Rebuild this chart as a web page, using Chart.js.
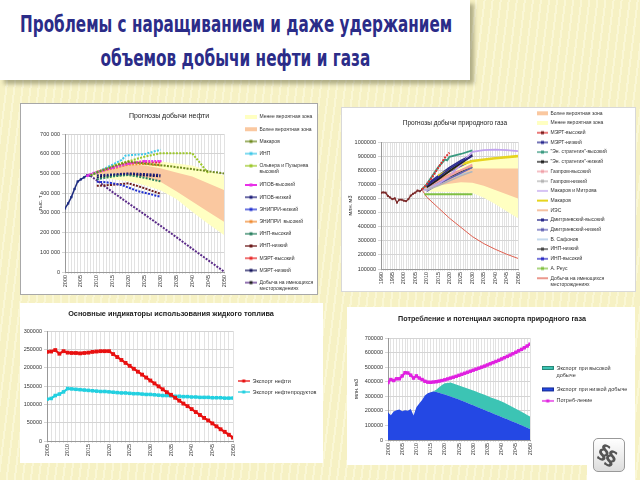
<!DOCTYPE html>
<html lang="ru">
<head>
<meta charset="utf-8">
<title>Проблемы с наращиванием и даже удержанием объемов добычи нефти и газа</title>
<script src="https://cdn.jsdelivr.net/npm/chart.js@4.4.1/dist/chart.umd.min.js"></script>
<style>
  html, body { margin: 0; padding: 0; }
  body {
    width: 640px; height: 480px; overflow: hidden; position: relative;
    background: #f6f1c4;
    background-image: repeating-linear-gradient(97deg, rgba(255,255,235,0.45) 0 2px, rgba(255,255,255,0) 2px 8px);
    font-family: "Liberation Sans", Arial, sans-serif;
  }
  #head { position: absolute; left: 0; top: 0; width: 470px; height: 80px; background: #fff;
          box-shadow: 4px 4px 4px rgba(90, 90, 60, 0.45); }
  .hl { position: absolute; white-space: nowrap; font-family: "DejaVu Sans Condensed", "DejaVu Sans", sans-serif;
        font-weight: bold; font-size: 23px; line-height: 23px; color: #2b2c88; transform-origin: center top; }
  canvas { position: absolute; background: #fff; }
  .ttl { position: absolute; white-space: nowrap; transform: translate(-50%, -50%); color: #222; }
  #logoBg { position: absolute; left: 587px; top: 440px; width: 48px; height: 40px; background: #fff; }
  #logo { position: absolute; left: 593px; top: 438px; width: 30px; height: 32px; border: 1px solid #999; border-radius: 5px;
          background: linear-gradient(#fff, #ddd); overflow: hidden; }
  #logo span { position: absolute; color: #555; font: bold 20px "DejaVu Sans", sans-serif; line-height: 20px;
               transform: rotate(25deg); }
</style>
</head>
<body>
<div id="head">
  <div class="hl" id="h1" style="top:13px">Проблемы с наращиванием и даже удержанием</div>
  <div class="hl" id="h2" style="top:47px">объемов добычи нефти и газа</div>
</div>

<canvas id="oil" width="296" height="190" style="left:21px;top:104px;outline:1px solid #a8a8a8"></canvas>
<canvas id="gas" width="293" height="183" style="left:342px;top:108px;outline:1px solid #d8d8d8"></canvas>
<canvas id="liquid" width="303" height="160" style="left:20px;top:303px"></canvas>
<canvas id="export" width="288" height="158" style="left:347px;top:307px"></canvas>

<div class="ttl" style="left:169px;top:115px;font-size:7px">Прогнозы добычи нефти</div>
<div class="ttl" style="left:455px;top:122px;font-size:6.5px">Прогнозы добычи природного газа</div>
<div class="ttl" style="left:171px;top:313px;font-size:7.3px;font-weight:bold">Основные индикаторы использования жидкого топлива</div>
<div class="ttl" style="left:492px;top:318px;font-size:7.2px;font-weight:bold">Потребление и потенциал экспорта природного газа</div>

<div id="logoBg"></div>
<div id="logo"><span style="left:5px;top:3px">§</span><span style="left:12px;top:9px">§</span></div>

<script>
// ---------- Oil production forecasts, thousand t ----------
const oilHistYears = [2000, 2001, 2002, 2003, 2004, 2005, 2006, 2007, 2008];
const oilHist = [323, 348, 380, 421, 459, 470, 480, 491, 488];
const oilZoneYears = [2008, 2010, 2015, 2020, 2025, 2030, 2035, 2040, 2045, 2050];
const oilLessHi = [495, 515, 545, 565, 570, 560, 550, 540, 515, 490];
const oilLessLo = [490, 480, 470, 460, 440, 415, 370, 305, 245, 188];
const oilMoreHi = [495, 510, 530, 545, 540, 526, 505, 484, 450, 416];
const oilMoreLo = [490, 495, 500, 495, 480, 458, 410, 357, 305, 255];
const oilFcYears = [2010, 2015, 2020, 2025, 2030];
const oilMakarov = [490, 505, 535, 560, 550, 542, 532, 522, 511, 500];
const oilInpYears = [2008, 2010, 2015, 2018, 2019, 2020, 2025, 2030];
const oilInp = [490, 505, 545, 570, 590, 592, 598, 620];
const oilOlYears = [2008, 2010, 2015, 2020, 2025, 2030, 2040, 2045];
const oilOl = [490, 505, 540, 562, 585, 602, 602, 503];
const oilIpovHiYears = [2007, 2008, 2009, 2010, 2015, 2020, 2025, 2030];
const oilIpovHi = [488, 495, 502, 506, 530, 550, 562, 562];
const oilIpovLo = [490, 495, 500, 497, 492];
const oilEnLoYears = [2010, 2013, 2015, 2018, 2020, 2023, 2025, 2028, 2030];
const oilEnLo = [458, 455, 450, 440, 428, 410, 402, 390, 382];
const oilEnHi = [505, 525, 545, 548, 540];
const oilInpHi = [470, 485, 492, 478, 460];
const oilInpLo = [437, 442, 450, 425, 397];
const oilMertHi = [508, 532, 552, 556, 556];
const oilMertLo = [480, 490, 495, 490, 485];
const oilExisting = [488, 465, 405, 348, 292, 235, 177, 118, 60, 2];

// ---------- Gas production forecasts, mln m3 (thousands on axis) ----------
const gasHistYears = [1990, 1991, 1992, 1993, 1994, 1995, 1996, 1997, 1998, 1999, 2000, 2001, 2002, 2003, 2004, 2005, 2006, 2007, 2008];
const gasHist = [641, 643, 641, 618, 607, 595, 601, 571, 591, 591, 584, 581, 595, 620, 633, 641, 656, 651, 664];
const gasZoneYears = [2008, 2010, 2015, 2020, 2025, 2030, 2035, 2040, 2045, 2050];
const gasMoreHi = [664, 690, 740, 780, 805, 812, 812, 812, 812, 812];
const gasMoreLo = [660, 665, 690, 705, 715, 712, 690, 660, 630, 600];
const gasLessHi = [664, 695, 760, 810, 845, 862, 870, 878, 885, 890];
const gasLessLo = [655, 650, 648, 645, 642, 638, 605, 560, 510, 460];
const gasFcYears = [2010, 2015, 2020, 2025, 2030];
const gasMertHiYears = [2008, 2010, 2012, 2014, 2016, 2018, 2020];
const gasMertHi = [664, 700, 740, 790, 840, 890, 925];
const gasMertLo = [690, 750, 810, 860, 900];
const gasEsHiYears = [2008, 2010, 2015, 2018, 2019, 2020, 2025, 2030];
const gasEsHi = [664, 700, 820, 875, 870, 895, 915, 940];
const gasEsLo = [680, 735, 795, 850, 905];
const gasGpHi = [680, 720, 760, 800, 840];
const gasGpLo = [660, 690, 725, 760, 790];
const gasMm = [664, 660, 700, 760, 840, 930, 942, 946, 942, 935];
const gasMakarovYears = [2015, 2020, 2025, 2030, 2040, 2050];
const gasMakarov = [760, 800, 840, 865, 885, 900];
const gasIes = [690, 730, 770, 800, 830];
const gasDmHi = [700, 760, 820, 870, 910];
const gasDmLo = [650, 700, 740, 780, 820];
const gasSafonov = [670, 710, 745, 770, 790];
const gasInpLo = [680, 715, 750, 790, 820];
const gasInpHi = [700, 745, 790, 830, 870];
const gasReusYears = [2009, 2015, 2020, 2025, 2030];
const gasReus = [630, 630, 630, 630, 630];
const gasExisting = [660, 610, 535, 460, 395, 330, 280, 240, 205, 175];

// ---------- Liquid fuel export, thousand t ----------
const liqYears = [2005, 2006, 2007, 2008, 2009, 2010, 2011, 2012, 2013, 2014, 2015, 2016, 2017, 2018, 2019,
  2020, 2021, 2022, 2023, 2024, 2025, 2026, 2027, 2028, 2029, 2030, 2031, 2032, 2033, 2034, 2035,
  2036, 2037, 2038, 2039, 2040, 2041, 2042, 2043, 2044, 2045, 2046, 2047, 2048, 2049, 2050];
const crudeExport = [243, 244, 248, 238, 245, 241, 240, 240, 239, 240, 241, 243, 244, 245, 245,
  245, 237, 229, 221, 213, 205, 197, 189, 181, 173, 165, 157, 149, 141, 133, 126,
  118, 110, 102, 95, 87, 79, 71, 63, 56, 48, 40, 32, 25, 17, 9];
const productExport = [114, 116, 124, 128, 134, 143, 142, 141, 140, 139, 138, 137, 136, 135, 135,
  134, 133, 132, 131, 131, 130, 129, 129, 128, 127, 127, 126, 125, 124, 124, 123,
  122, 122, 121, 121, 120, 120, 119, 119, 119, 118, 118, 118, 117, 117, 117];

// ---------- Gas consumption and export potential, mln m3 ----------
const expYears = [2000, 2001, 2002, 2003, 2004, 2005, 2006, 2007, 2008, 2009, 2010, 2011, 2012, 2013, 2014,
  2015, 2016, 2017, 2018, 2019, 2020, 2021, 2022, 2023, 2024, 2025, 2026, 2027, 2028, 2029, 2030,
  2031, 2032, 2033, 2034, 2035, 2036, 2037, 2038, 2039, 2040, 2041, 2042, 2043, 2044, 2045, 2046,
  2047, 2048, 2049, 2050];
const consumption = [395, 415, 408, 420, 420, 440, 462, 460, 445, 425, 440, 425, 415, 403, 397,
  396, 398, 400, 404, 408, 413, 419, 425, 431, 437, 444, 451, 458, 465, 472, 479,
  486, 493, 500, 507, 515, 523, 531, 539, 547, 556, 565, 574, 583, 592, 602, 612,
  622, 633, 645, 658];
const exportLow = [190, 170, 195, 205, 210, 198, 205, 200, 212, 168, 225, 250, 275, 305, 320,
  327, 333, 330, 324, 318, 312, 306, 299, 292, 285, 278, 270, 262, 254, 246, 238,
  230, 222, 214, 206, 198, 190, 182, 174, 166, 158, 150, 142, 134, 126, 118, 110,
  102, 93, 84, 75];
const exportHigh = [190, 170, 195, 205, 210, 198, 205, 200, 212, 168, 225, 250, 275, 305, 320,
  327, 335, 345, 362, 378, 390, 392, 394, 388, 381, 374, 367, 360, 354, 347, 340,
  333, 325, 317, 310, 302, 294, 287, 279, 272, 264, 255, 245, 235, 225, 215, 205,
  194, 183, 172, 161];

// ---------- helpers ----------
Chart.defaults.font.family = '"Liberation Sans", Arial, sans-serif';
Chart.defaults.font.size = 5.5;
Chart.defaults.color = '#333';
Chart.defaults.animation = false;
Chart.defaults.events = [];
Chart.defaults.elements.point.radius = 0;
Chart.defaults.elements.line.tension = 0;

function pts(xs, ys) {
  return xs.map((x, i) => ({ x: x, y: ys[i] }));
}

// small legend sample drawn on its own canvas
function swatch(w, color, kind, mark) {
  const c = document.createElement('canvas');
  c.width = w; c.height = 6;
  const g = c.getContext('2d');
  if (kind === 'box') {
    g.fillStyle = color;
    g.fillRect(0, 1, w, 4);
    if (mark) { g.strokeStyle = mark; g.lineWidth = 0.7; g.strokeRect(0.4, 1.4, w - 0.8, 3.2); }
  } else {
    g.strokeStyle = color;
    g.lineWidth = kind === 'thick' ? 2 : 1.3;
    g.beginPath(); g.moveTo(0, 3); g.lineTo(w, 3); g.stroke();
    if (mark) { g.fillStyle = mark; g.fillRect(w / 2 - 1.5, 1.5, 3, 3); }
  }
  return c;
}

function zone(label, xs, ys, color, order, sw) {
  return { label: label, data: pts(xs, ys), borderWidth: 0, borderColor: 'rgba(0,0,0,0)',
           backgroundColor: color, fill: '+1', order: order, swatch: swatch(sw, color, 'box') };
}
function edge(xs, ys, order) {
  return { label: '_edge', data: pts(xs, ys), borderWidth: 0, borderColor: 'rgba(0,0,0,0)', fill: false, order: order };
}
function line(label, xs, ys, color, o) {
  o = o || {};
  return { label: label, data: pts(xs, ys), borderColor: color, backgroundColor: color,
           borderWidth: o.w || 1.5, borderDash: o.dash || [], pointRadius: o.r || 0, pointStyle: 'rect',
           pointBackgroundColor: o.pc || color, pointBorderWidth: 0, fill: false, order: 0,
           swatch: swatch(o.sw || 12, color, o.w > 2 ? 'thick' : 'line', o.mark) };
}

function legendLabels(chart) {
  return chart.data.datasets.map((ds, i) => ({
    text: ds.label, pointStyle: ds.swatch, datasetIndex: i, hidden: false,
    fontColor: '#333', fillStyle: 'rgba(0,0,0,0)', strokeStyle: 'rgba(0,0,0,0)', lineWidth: 0
  })).filter(it => String(it.text).charAt(0) !== '_');
}

// puts the built-in legend at a fixed place beside the plot
const legendPlace = {
  id: 'legendPlace',
  afterInit(chart, args, o) {
    const lg = chart.legend;
    if (!lg || !o || o.x === undefined) return;
    const fit = lg.fit.bind(lg);
    const draw = lg.draw.bind(lg);
    lg.fit = function () { fit(); this.width = chart.width - o.plotRight; };
    lg.draw = function () {
      const l = this.left, t = this.top, b = this.bottom;
      this.left = o.x - o.pad;
      this.top = o.y - o.pad - o.fs / 2;
      this.bottom = 10000;
      draw();
      this.left = l; this.top = t; this.bottom = b;
    };
  }
};
Chart.register(legendPlace);

function legendOpts(fs, pad, sw, lh) {
  return { position: 'right', align: 'start',
           labels: { usePointStyle: true, pointStyleWidth: sw, padding: pad,
                     font: { size: fs, lineHeight: lh || 1.2 }, color: '#333', generateLabels: legendLabels } };
}

function xAxis(min, max, h) {
  return { type: 'linear', min: min, max: max,
           ticks: { stepSize: 1, autoSkip: false, maxRotation: 90, minRotation: 90, padding: 1, color: '#333',
                    callback: v => (v % 5 === 0 ? String(v) : '') },
           grid: { color: '#e2e2e2', tickLength: 2 }, border: { color: '#999' },
           afterFit: s => { s.height = h; } };
}
function yAxis(min, max, step, w, fmt, title) {
  const ax = { min: min, max: max,
               ticks: { stepSize: step, padding: 2, color: '#333', callback: fmt },
               grid: { color: '#d4d4d4', tickLength: 3 }, border: { color: '#999' },
               afterFit: s => { s.width = w; } };
  if (title) ax.title = { display: true, text: title.text, font: { size: 5.5 }, padding: title.pad, color: '#333' };
  return ax;
}

// ---------- chart 1: oil ----------
new Chart(document.getElementById('oil'), {
  type: 'line',
  data: {
    datasets: [
      zone('Менее вероятная зона', oilZoneYears, oilLessHi, '#ffffc2', 12, 12),
      edge(oilZoneYears, oilLessLo, 12),
      zone('Более вероятная зона', oilZoneYears, oilMoreHi, '#fac8a0', 11, 12),
      edge(oilZoneYears, oilMoreLo, 11),
      line('Макаров', oilZoneYears, oilMakarov, '#6f8a1e', { w: 2, dash: [2, 1.3], mark: '#6f8a1e' }),
      line('ИНП', oilInpYears, oilInp, '#3fc8e8', { w: 2, dash: [2, 1.3], mark: '#3fc8e8' }),
      line(['Ольвера и Пузырева', 'высокий'], oilOlYears, oilOl, '#9cc82a', { w: 2, dash: [2, 1.3], mark: '#9cc82a' }),
      line('ИПОВ-высокий', oilIpovHiYears, oilIpovHi, '#e830e8', { w: 2.4, dash: [2, 1], r: 1.6, mark: '#e830e8' }),
      line('ИПОВ-низкий', oilFcYears, oilIpovLo, '#1c1c78', { w: 2, dash: [2, 1.3], mark: '#1c1c78' }),
      line('ЭНИПРИ-низкий', oilEnLoYears, oilEnLo, '#1f2fd0', { w: 2, dash: [2, 1.3], mark: '#1f2fd0' }),
      line('ЭНИПРИ  высокий', oilFcYears, oilEnHi, '#f08a30', { w: 2, dash: [2, 1.3], mark: '#f08a30' }),
      line('ИНП-высокий', oilFcYears, oilInpHi, '#2a8060', { w: 2, dash: [2, 1.3], mark: '#2a8060' }),
      line('ИНП-низкий', oilFcYears, oilInpLo, '#6e1c1c', { w: 2, dash: [2, 1.3], mark: '#6e1c1c' }),
      line('МЭРТ-высокий', oilFcYears, oilMertHi, '#e82828', { w: 2, dash: [2, 1.3], mark: '#e82828' }),
      line('МЭРТ-низкий', oilFcYears, oilMertLo, '#12125a', { w: 2, dash: [2, 1.3], mark: '#12125a' }),
      line(['Добыча на имеющихся', 'месторождениях'], oilZoneYears, oilExisting, '#5a2a88', { w: 2, dash: [2, 1.3], mark: '#222' }),
      line('_hist', oilHistYears, oilHist, '#1c2a80', { w: 1.5, r: 1.6 })
    ]
  },
  options: {
    responsive: false,
    layout: { padding: { left: 13, top: 30, right: 0, bottom: 3 } },
    scales: {
      x: xAxis(2000, 2050, 19),
      y: yAxis(0, 700, 100, 31, v => (v === 0 ? '0' : v + ' 000'), { text: 'тыс. т', pad: 3 })
    },
    plugins: {
      legend: legendOpts(5, 7.2, 12),
      legendPlace: { plotRight: 203, x: 224, y: 13, pad: 7.2, fs: 5 },
      tooltip: { enabled: false }
    }
  }
});

// ---------- chart 2: gas ----------
new Chart(document.getElementById('gas'), {
  type: 'line',
  data: {
    datasets: [
      zone('Более вероятная зона', gasZoneYears, gasMoreHi, '#fac8a0', 11, 11),
      edge(gasZoneYears, gasMoreLo, 11),
      zone('Менее вероятная зона', gasZoneYears, gasLessHi, '#ffffc2', 12, 11),
      edge(gasZoneYears, gasLessLo, 12),
      line('МЭРТ-высокий', gasMertHiYears, gasMertHi, '#e03030', { w: 2, dash: [2, 1.2], sw: 11, mark: '#802020' }),
      line('МЭРТ-низкий', gasFcYears, gasMertLo, '#2a2a90', { sw: 11, mark: '#2a2a90' }),
      line('"Эн. стратегия"-высокий', gasEsHiYears, gasEsHi, '#3a9a80', { w: 1.8, sw: 11, mark: '#3a9a80' }),
      line('"Эн. стратегия"-низкий', gasFcYears, gasEsLo, '#202020', { w: 1.8, sw: 11, mark: '#202020' }),
      line('Газпром-высокий', gasFcYears, gasGpHi, '#f0a0a8', { w: 1.8, sw: 11, mark: '#f0a0a8' }),
      line('Газпром-низкий', gasFcYears, gasGpLo, '#b4b4b4', { sw: 11, mark: '#b4b4b4' }),
      line('Макаров и Митрова', gasZoneYears, gasMm, '#c0a2ee', { w: 1.8, sw: 11 }),
      line('Макаров', gasMakarovYears, gasMakarov, '#e6d41e', { w: 2.6, sw: 11 }),
      line('ИЭС', gasFcYears, gasIes, '#f0a070', { sw: 11 }),
      line('Дмитриевский-высокий', gasFcYears, gasDmHi, '#2c2c8c', { sw: 11, mark: '#2c2c8c' }),
      line('Дмитриевский-низкий', gasFcYears, gasDmLo, '#6262b4', { sw: 11, mark: '#6262b4' }),
      line('В. Сафонов', gasFcYears, gasSafonov, '#a4c4e4', { w: 1.2, sw: 11 }),
      line('ИНП-низкий', gasFcYears, gasInpLo, '#444444', { sw: 11, mark: '#444' }),
      line('ИНП-высокий', gasFcYears, gasInpHi, '#2a2ac4', { sw: 11, mark: '#2a2ac4' }),
      line('А. Реус', gasReusYears, gasReus, '#80c040', { w: 2, sw: 11, mark: '#80c040' }),
      line(['Добыча на имеющихся', 'месторождениях'], gasZoneYears, gasExisting, '#e06050', { w: 1, sw: 11 }),
      line('_hist', gasHistYears, gasHist, '#7a2828', { w: 1.3, r: 1.4 })
    ]
  },
  options: {
    responsive: false,
    layout: { padding: { left: 4, top: 34, right: 0, bottom: 3 } },
    scales: {
      x: xAxis(1990, 2050, 19),
      y: yAxis(100, 1000, 100, 35, v => v + '000', { text: 'млн. м3', pad: 1.5 })
    },
    plugins: {
      legend: legendOpts(5, 4.7, 11),
      legendPlace: { plotRight: 176, x: 195, y: 5.3, pad: 4.7, fs: 5 },
      tooltip: { enabled: false }
    }
  }
});

// ---------- chart 3: liquid fuel ----------
new Chart(document.getElementById('liquid'), {
  type: 'line',
  data: {
    datasets: [
      { label: 'Экспорт нефти', data: pts(liqYears, crudeExport), borderColor: '#e81010', backgroundColor: '#e81010',
        borderWidth: 2.2, pointRadius: 2.7, pointStyle: 'rect', pointBorderWidth: 0, pointBackgroundColor: '#e81010',
        swatch: swatch(12, '#e81010', 'line', '#e81010') },
      { label: 'Экспорт нефтепродуктов', data: pts(liqYears, productExport), borderColor: '#22d0e0', backgroundColor: '#22d0e0',
        borderWidth: 2.2, pointRadius: 2.5, pointStyle: 'rect', pointBorderWidth: 0, pointBackgroundColor: '#22d0e0',
        swatch: swatch(12, '#22d0e0', 'line', '#22d0e0') }
    ]
  },
  options: {
    responsive: false,
    layout: { padding: { left: 3, top: 28, right: 0, bottom: 3 } },
    scales: {
      x: xAxis(2005, 2050, 19),
      y: yAxis(0, 300, 50, 24, v => (v === 0 ? '0' : v + '000'))
    },
    plugins: {
      legend: legendOpts(5.5, 5.5, 12),
      legendPlace: { plotRight: 213, x: 217.7, y: 78, pad: 5.5, fs: 5.5 },
      tooltip: { enabled: false }
    }
  }
});

// ---------- chart 4: gas export ----------
new Chart(document.getElementById('export'), {
  type: 'line',
  data: {
    datasets: [
      { label: ['Экспорт при высокой', 'добыче'], data: pts(expYears, exportHigh), borderWidth: 0, borderColor: 'rgba(0,0,0,0)',
        backgroundColor: '#3cc4b4', fill: '+1', order: 2, swatch: swatch(12, '#3cc4b4', 'box', '#207060') },
      { label: 'Экспорт при низкой добыче', data: pts(expYears, exportLow), borderWidth: 0, borderColor: 'rgba(0,0,0,0)',
        backgroundColor: '#2448e4', fill: 'origin', order: 1, swatch: swatch(12, '#2448e4', 'box', '#102070') },
      { label: 'Потреб-ление', data: pts(expYears, consumption), borderColor: '#e020e0', backgroundColor: '#e020e0',
        borderWidth: 2.2, pointRadius: 2.4, pointStyle: 'rect', pointBorderWidth: 0, pointBackgroundColor: '#e020e0',
        order: 0, swatch: swatch(12, '#e020e0', 'line', '#e020e0') }
    ]
  },
  options: {
    responsive: false,
    layout: { padding: { left: 5, top: 31, right: 0, bottom: 3 } },
    scales: {
      x: xAxis(2000, 2050, 22),
      y: yAxis(0, 700, 100, 36, v => (v === 0 ? '0' : v + '000'), { text: 'млн. м3', pad: 1 })
    },
    plugins: {
      legend: legendOpts(5.5, 6, 12, 1.4),
      legendPlace: { plotRight: 183, x: 194.7, y: 61, pad: 6, fs: 5.5 },
      tooltip: { enabled: false }
    }
  }
});

// ---------- heading lines squeezed to the width of the original ----------
function fitLine(id, cx, width) {
  const el = document.getElementById(id);
  const w = el.offsetWidth;
  el.style.left = (cx - w / 2) + 'px';
  el.style.transform = 'scaleX(' + (width / w) + ')';
}
fitLine('h1', 236, 432);
fitLine('h2', 235, 270);
</script>
</body>
</html>
